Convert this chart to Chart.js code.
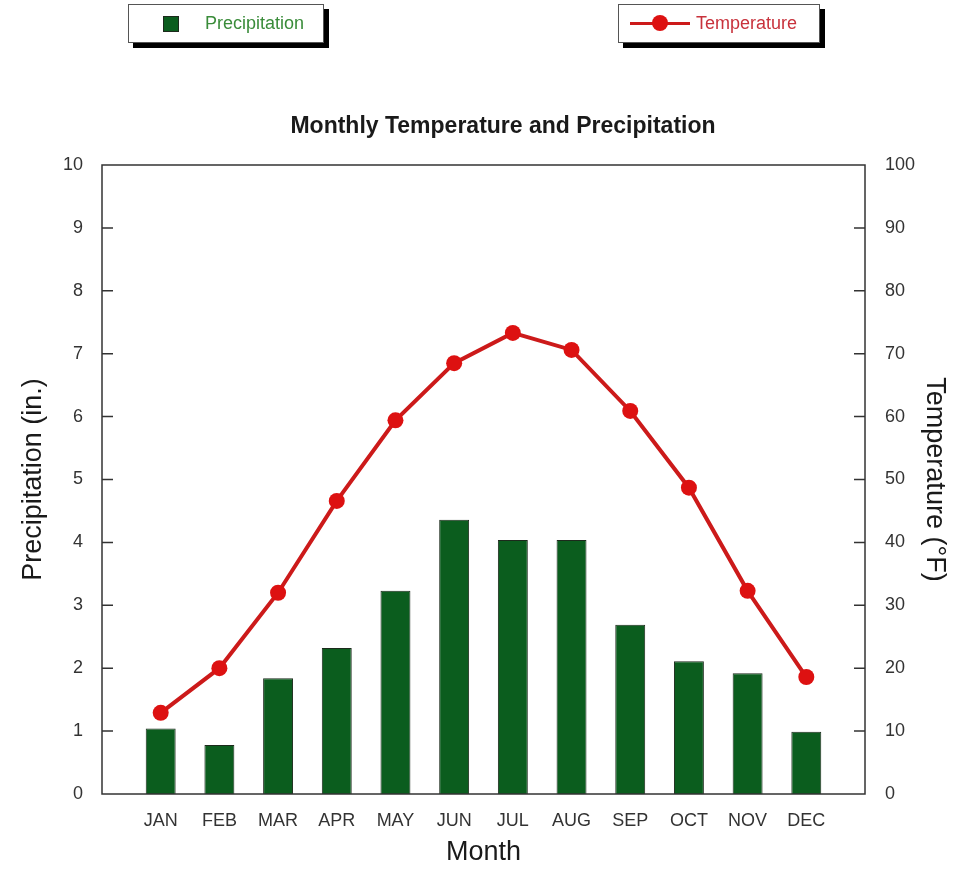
<!DOCTYPE html>
<html>
<head>
<meta charset="utf-8">
<script src="https://cdn.jsdelivr.net/npm/chart.js@4.4.1/dist/chart.umd.min.js"></script>
<style>
    html, body {
        margin: 0;
        padding: 0;
        background: #fff;
        font-family: "Liberation Sans", Arial, sans-serif;
        overflow: hidden;
    }

    #wrap {
        position: relative;
        width: 955px;
        height: 869px;
    }

    #chartTitle {
        position: absolute;
        left: 0;
        top: 112px;
        width: 1006px;
        text-align: center;
        font-size: 23px;
        font-weight: bold;
        line-height: 26px;
        color: #1a1a1a;
        white-space: nowrap;
    }

    .legend-box {
        position: absolute;
        top: 4px;
        height: 37px;
        background: #fff;
        border: 1px solid #555;
        box-shadow: 5px 5px 0 #000;
        font-size: 18px;
    }

    .legend-box span {
        position: absolute;
        top: 8px;
        line-height: 20px;
    }

    .swatch {
        position: absolute;
        left: 34px;
        top: 11px;
        width: 14px;
        height: 14px;
        background: #0b5d1e;
        border: 1px solid #1c2a1c;
    }

    .line-mark {
        position: absolute;
        left: 11px;
        top: 17px;
        width: 60px;
        height: 3px;
        background: #cc1a1a;
    }

    .dot-mark {
        position: absolute;
        left: 33px;
        top: 10px;
        width: 16px;
        height: 16px;
        border-radius: 50%;
        background: #dd1111;
    }
</style>
</head>
<body>

<div id="wrap">

    <canvas id="climateChart" width="955" height="869"></canvas>

    <div id="chartTitle">Monthly Temperature and Precipitation</div>

    <div class="legend-box" style="left:128px; width:194px;">
        <div class="swatch"></div>
        <span style="left:76px; color:#3a8c3a;">Precipitation</span>
    </div>

    <div class="legend-box" style="left:618px; width:200px;">
        <div class="line-mark"></div>
        <div class="dot-mark"></div>
        <span style="left:77px; color:#c8323c;">Temperature</span>
    </div>

</div>

<script>

/* ========= DATA ========= */

const months = ["JAN", "FEB", "MAR", "APR", "MAY", "JUN",
                "JUL", "AUG", "SEP", "OCT", "NOV", "DEC"];

const precipitation = [1.04, 0.78, 1.84, 2.32, 3.23, 4.36,
                       4.04, 4.04, 2.69, 2.11, 1.92, 0.99];

const temperature = [12.9, 20.0, 32.0, 46.6, 59.4, 68.5,
                     73.3, 70.6, 60.9, 48.7, 32.3, 18.6];

const precipTicks = [0, 1, 2, 3, 4, 5, 6, 7, 8, 9, 10];
const tempTicks = [0, 10, 20, 30, 40, 50, 60, 70, 80, 90, 100];

// empty slot at each end so the months sit one step in from the frame
const labels = [""].concat(months, [""]);
const padded = arr => [null].concat(arr, [null]);

const FONT = "'Liberation Sans', Arial, sans-serif";

/* ========= FRAME + INWARD TICKS ========= */

const framePlugin = {
    id: "frame",
    afterDatasetsDraw(chart) {

        const { ctx, chartArea: a, scales } = chart;

        ctx.save();
        ctx.strokeStyle = "#333";
        ctx.lineWidth = 1.5;
        ctx.strokeRect(a.left, a.top, a.right - a.left, a.bottom - a.top);

        ctx.beginPath();
        precipTicks.slice(1, -1).forEach(v => {
            const y = scales.y.getPixelForValue(v);
            ctx.moveTo(a.left, y);
            ctx.lineTo(a.left + 11, y);
        });
        tempTicks.slice(1, -1).forEach(v => {
            const y = scales.y1.getPixelForValue(v);
            ctx.moveTo(a.right, y);
            ctx.lineTo(a.right - 11, y);
        });
        ctx.stroke();
        ctx.restore();
    }
};

/* ========= CHART ========= */

new Chart(document.getElementById("climateChart"), {

    type: "bar",

    data: {
        labels: labels,
        datasets: [
            {
                type: "line",
                label: "Temperature",
                data: padded(temperature),
                yAxisID: "y1",
                borderColor: "#cc1a1a",
                backgroundColor: "#dd1111",
                borderWidth: 4,
                pointRadius: 8,
                pointBorderWidth: 0,
                pointBackgroundColor: "#dd1111",
                tension: 0,
                order: 0
            },
            {
                label: "Precipitation",
                data: padded(precipitation),
                yAxisID: "y",
                backgroundColor: "#0b5d1e",
                borderColor: "#1c2a1c",
                borderWidth: 1,
                categoryPercentage: 1,
                barPercentage: 0.51,
                order: 1
            }
        ]
    },

    options: {
        responsive: false,
        animation: false,
        layout: {
            padding: { top: 165, left: 0, right: 0, bottom: 0 }
        },
        plugins: {
            legend: { display: false },
            tooltip: { enabled: false },
            title: { display: false }
        },
        scales: {
            x: {
                offset: false,
                grid: { display: false, drawTicks: false },
                border: { display: false },
                ticks: {
                    color: "#333",
                    font: { family: FONT, size: 18 },
                    padding: 16,
                    autoSkip: false,
                    maxRotation: 0
                },
                title: {
                    display: true,
                    text: "Month",
                    color: "#1a1a1a",
                    font: { family: FONT, size: 27 },
                    padding: { top: 0, bottom: 0 }
                },
                afterFit(scale) {
                    scale.height = 75;
                }
            },
            y: {
                position: "left",
                min: 0,
                max: 10,
                grid: { display: false, drawTicks: false },
                border: { display: false },
                afterBuildTicks(scale) {
                    scale.ticks = precipTicks.map(v => ({ value: v }));
                },
                ticks: {
                    color: "#333",
                    font: { family: FONT, size: 18 },
                    padding: 19
                },
                title: {
                    display: true,
                    text: "Precipitation (in.)",
                    color: "#1a1a1a",
                    font: { family: FONT, size: 27 },
                    padding: { top: 17, bottom: 0 }
                },
                afterFit(scale) {
                    scale.width = 102;
                }
            },
            y1: {
                position: "right",
                min: 0,
                max: 100,
                grid: { display: false, drawTicks: false },
                border: { display: false },
                afterBuildTicks(scale) {
                    scale.ticks = tempTicks.map(v => ({ value: v }));
                },
                ticks: {
                    color: "#333",
                    font: { family: FONT, size: 18 },
                    padding: 20
                },
                title: {
                    display: true,
                    text: "Temperature (°F)",
                    color: "#1a1a1a",
                    font: { family: FONT, size: 27 },
                    padding: { top: 4, bottom: 0 }
                },
                afterFit(scale) {
                    scale.width = 90;
                }
            }
        }
    },

    plugins: [framePlugin]

});

</script>
</body>
</html>
